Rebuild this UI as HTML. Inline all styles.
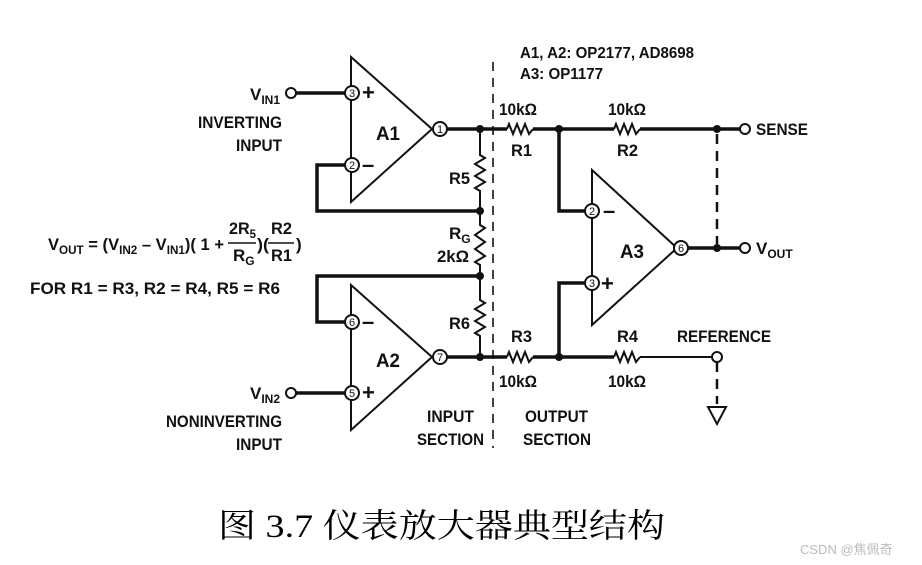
<!DOCTYPE html>
<html><head><meta charset="utf-8"><style>
html,body{margin:0;padding:0;background:#fff;}
svg{display:block}
.t{font-family:"Liberation Sans",sans-serif;font-weight:bold;fill:#111;}
.p{font-family:"Liberation Sans",sans-serif;font-size:11px;fill:#111;text-anchor:middle}
</style></head><body>
<svg width="922" height="565" viewBox="0 0 922 565" xmlns="http://www.w3.org/2000/svg">
<g stroke="#111" fill="none" stroke-width="3.5">
<line x1="296" y1="93" x2="346" y2="93"/>
<polyline points="346,165 317,165 317,211 480,211"/>
<line x1="446" y1="129" x2="480" y2="129"/>
<polyline points="480,276 317,276 317,322 346,322"/>
<line x1="296" y1="393" x2="346" y2="393"/>
<line x1="446" y1="357" x2="480" y2="357"/>
<line x1="480" y1="129" x2="507" y2="129"/>
<line x1="533" y1="129" x2="614" y2="129"/>
<line x1="640" y1="129" x2="740" y2="129"/>
<polyline points="559,129 559,211 586,211"/>
<line x1="480" y1="357" x2="507" y2="357"/>
<line x1="533" y1="357" x2="614" y2="357"/>
<polyline points="559,357 559,283 586,283"/>
<line x1="687" y1="248" x2="740" y2="248"/>
</g>
<g stroke="#111" fill="none" stroke-width="2">
<polygon points="351,57 351,202 432,129"/>
<polygon points="351,285 351,430 432,357"/>
<polygon points="592,170 592,325 677,248"/>
<polyline points="507,129 509,124 513,134 517,124 521,134 525,124 529,134 533,129"/>
<polyline points="507,357 509,352 513,362 517,352 521,362 525,352 529,362 533,357"/>
<polyline points="614,129 616,124 620,134 624,124 628,134 632,124 636,134 640,129"/>
<polyline points="614,357 616,352 620,362 624,352 628,362 632,352 636,362 640,357"/>
<line x1="640" y1="357" x2="712" y2="357"/>
<polyline points="480,129 480,155 485,158 475,164 485,170 475,176 485,182 475,188 480,191 480,225 485,228 475,235 485,242 475,249 485,256 475,262 480,265 480,300 485,303 475,309 485,315 475,321 485,327 475,333 480,336 480,357"/>
<line x1="493" y1="62" x2="493" y2="448" stroke-dasharray="9,7" stroke-width="1.6"/>
<line x1="717" y1="134" x2="717" y2="244" stroke-dasharray="10,7" stroke-width="2.5"/>
<line x1="717" y1="362" x2="717" y2="404" stroke-dasharray="10,7" stroke-width="2.5"/>
<polygon points="708,407 726,407 717,424"/>
<circle cx="291" cy="93" r="5" fill="#fff"/>
<circle cx="291" cy="393" r="5" fill="#fff"/>
<circle cx="745" cy="129" r="5" fill="#fff"/>
<circle cx="745" cy="248" r="5" fill="#fff"/>
<circle cx="717" cy="357" r="5" fill="#fff"/>
<circle cx="352" cy="93" r="7" fill="#fff"/>
<circle cx="352" cy="165" r="7" fill="#fff"/>
<circle cx="352" cy="322" r="7" fill="#fff"/>
<circle cx="352" cy="393" r="7" fill="#fff"/>
<circle cx="440" cy="129" r="7" fill="#fff"/>
<circle cx="440" cy="357" r="7" fill="#fff"/>
<circle cx="592" cy="211" r="7" fill="#fff"/>
<circle cx="592" cy="283" r="7" fill="#fff"/>
<circle cx="681" cy="248" r="7" fill="#fff"/>
</g>
<g fill="#111">
<circle cx="480" cy="129" r="4"/><circle cx="480" cy="211" r="4"/><circle cx="480" cy="276" r="4"/><circle cx="480" cy="357" r="4"/>
<circle cx="559" cy="129" r="4"/><circle cx="559" cy="357" r="4"/><circle cx="717" cy="129" r="4"/><circle cx="717" cy="248" r="4"/>
</g>
<g class="p">
<text x="352" y="97">3</text><text x="352" y="169">2</text><text x="352" y="326">6</text><text x="352" y="397">5</text>
<text x="440" y="133">1</text><text x="440" y="361">7</text><text x="592" y="215">2</text><text x="592" y="287">3</text><text x="681" y="252">6</text>
</g>
<g class="t" font-size="17" lengthAdjust="spacingAndGlyphs">
<text x="362" y="100" font-size="22">+</text><text x="362" y="172" font-size="22">–</text>
<text x="362" y="329" font-size="22">–</text><text x="362" y="400" font-size="22">+</text>
<text x="603" y="218" font-size="22">–</text><text x="601" y="291" font-size="22">+</text>
<text x="376" y="140" font-size="19" textLength="24" lengthAdjust="spacingAndGlyphs">A1</text>
<text x="376" y="367" font-size="19" textLength="24" lengthAdjust="spacingAndGlyphs">A2</text>
<text x="620" y="258" font-size="19" textLength="24" lengthAdjust="spacingAndGlyphs">A3</text>
<text x="250" y="100">V<tspan font-size="12" dy="4">IN1</tspan></text>
<text x="198" y="128" textLength="84" lengthAdjust="spacingAndGlyphs">INVERTING</text>
<text x="236" y="151" textLength="46" lengthAdjust="spacingAndGlyphs">INPUT</text>
<text x="250" y="399">V<tspan font-size="12" dy="4">IN2</tspan></text>
<text x="166" y="427" textLength="116" lengthAdjust="spacingAndGlyphs">NONINVERTING</text>
<text x="236" y="450" textLength="46" lengthAdjust="spacingAndGlyphs">INPUT</text>
<text x="449" y="184" textLength="21" lengthAdjust="spacingAndGlyphs">R5</text>
<text x="449" y="239">R<tspan font-size="12" dy="4">G</tspan></text>
<text x="437" y="262" textLength="32" lengthAdjust="spacingAndGlyphs">2kΩ</text>
<text x="449" y="329" textLength="21" lengthAdjust="spacingAndGlyphs">R6</text>
<text x="427" y="422" textLength="47" lengthAdjust="spacingAndGlyphs">INPUT</text>
<text x="417" y="445" textLength="67" lengthAdjust="spacingAndGlyphs">SECTION</text>
<text x="525" y="422" textLength="63" lengthAdjust="spacingAndGlyphs">OUTPUT</text>
<text x="523" y="445" textLength="68" lengthAdjust="spacingAndGlyphs">SECTION</text>
<text x="499" y="115" textLength="38" lengthAdjust="spacingAndGlyphs">10kΩ</text><text x="511" y="156" textLength="21" lengthAdjust="spacingAndGlyphs">R1</text>
<text x="608" y="115" textLength="38" lengthAdjust="spacingAndGlyphs">10kΩ</text><text x="617" y="156" textLength="21" lengthAdjust="spacingAndGlyphs">R2</text>
<text x="511" y="342" textLength="21" lengthAdjust="spacingAndGlyphs">R3</text><text x="499" y="387" textLength="38" lengthAdjust="spacingAndGlyphs">10kΩ</text>
<text x="617" y="342" textLength="21" lengthAdjust="spacingAndGlyphs">R4</text><text x="608" y="387" textLength="38" lengthAdjust="spacingAndGlyphs">10kΩ</text>
<text x="677" y="342" textLength="94" lengthAdjust="spacingAndGlyphs">REFERENCE</text>
<text x="756" y="135" textLength="52" lengthAdjust="spacingAndGlyphs">SENSE</text>
<text x="756" y="254">V<tspan font-size="12" dy="4">OUT</tspan></text>
<text x="520" y="58" font-size="16" textLength="174" lengthAdjust="spacingAndGlyphs">A1, A2: OP2177, AD8698</text>
<text x="520" y="79" font-size="16" textLength="83" lengthAdjust="spacingAndGlyphs">A3: OP1177</text>
<text x="48" y="250" textLength="176" lengthAdjust="spacingAndGlyphs">V<tspan font-size="12" dy="4">OUT</tspan><tspan dy="-4"> = (V</tspan><tspan font-size="12" dy="4">IN2</tspan><tspan dy="-4"> – V</tspan><tspan font-size="12" dy="4">IN1</tspan><tspan dy="-4">)( 1 +</tspan></text>
<text x="229" y="234" textLength="27" lengthAdjust="spacingAndGlyphs">2R<tspan font-size="12" dy="4">5</tspan></text>
<text x="233" y="261">R<tspan font-size="12" dy="4">G</tspan></text>
<text x="257" y="250" textLength="12" lengthAdjust="spacingAndGlyphs">)(</text>
<text x="271" y="234" textLength="21" lengthAdjust="spacingAndGlyphs">R2</text>
<text x="271" y="261" textLength="21" lengthAdjust="spacingAndGlyphs">R1</text>
<text x="296" y="250">)</text>
<text x="30" y="294" textLength="250" lengthAdjust="spacingAndGlyphs">FOR R1 = R3, R2 = R4, R5 = R6</text>
</g>
<g stroke="#111" stroke-width="1.5"><line x1="228" y1="243" x2="256" y2="243"/><line x1="268" y1="243" x2="294" y2="243"/></g>
<text x="218" y="537" font-size="33" textLength="447" lengthAdjust="spacingAndGlyphs" font-family="'Liberation Serif','Noto Serif CJK SC',serif" fill="#000">图 3.7 仪表放大器典型结构</text>
<text x="800" y="554" font-size="13" font-family="'Liberation Sans','Noto Sans CJK SC',sans-serif" fill="#bbb">CSDN @焦佩奇</text>
</svg>
</body></html>
